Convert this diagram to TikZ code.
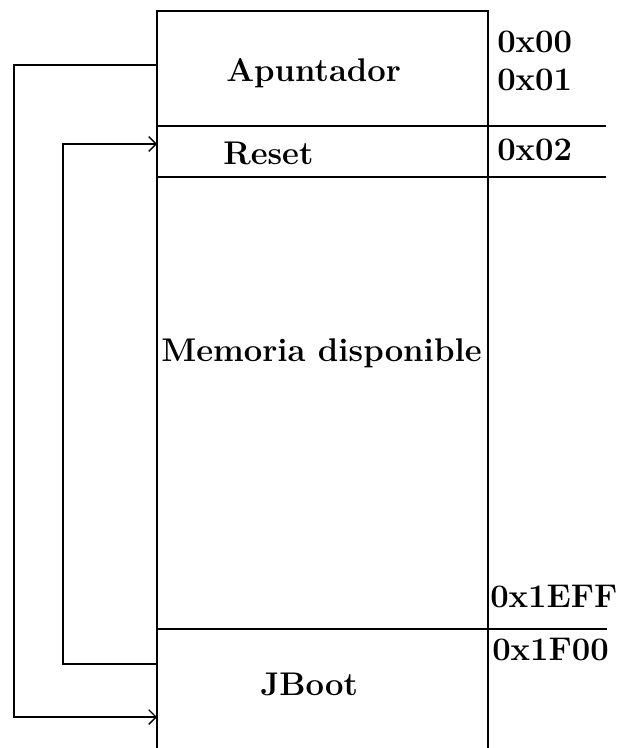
\documentclass[tikz,border=0pt]{standalone}
\usepackage{fontspec}
\usetikzlibrary{arrows.meta}
\tikzset{
  line/.style={line width=1.3pt, black},
  conn/.style={line width=1.3pt, black, -{Straight Barb[length=5.5pt,width=11pt,line width=1pt]}},
  lbl/.style={anchor=base west, inner sep=0pt, font=\fontsize{24.6}{29}\selectfont\bfseries},
}
\begin{document}
\begin{tikzpicture}[x=0.75pt,y=-0.75pt]
\useasboundingbox (0,0) rectangle (623,748);
% memory box
\draw[line] (157,748) -- (157,11) -- (488,11) -- (488,748);
\draw[line] (157,126) -- (606,126);
\draw[line] (157,177) -- (606,177);
\draw[line] (157,629) -- (607,629);
% labels
\node[lbl] (apuntador) at (226,82) {Apuntador};
\node[lbl] (reset) at (223,165) {Reset};
\node[lbl] (memoria) at (161,361) {Memoria disponible};
\node[lbl] (jboot) at (260,695) {JBoot};
\node[lbl] (a00) at (497,53) {0x00};
\node[lbl] (a01) at (497,91) {0x01};
\node[lbl] (a02) at (497,161) {0x02};
\node[lbl] (a1eff) at (490,607) {0x1EFF};
\node[lbl] (a1f00) at (492,660) {0x1F00};
% connector anchors
\coordinate (apL) at (157,65);
\coordinate (jbL) at (157,717);
\coordinate (rsL) at (157,144);
\coordinate (memL) at (157,664);
\coordinate (outer) at (14,65);
\coordinate (inner) at (63,664);
\draw[conn] (apL) -- (outer) |- (jbL);
\draw[conn] (memL) -- (inner) |- (rsL);
\end{tikzpicture}
\end{document}
